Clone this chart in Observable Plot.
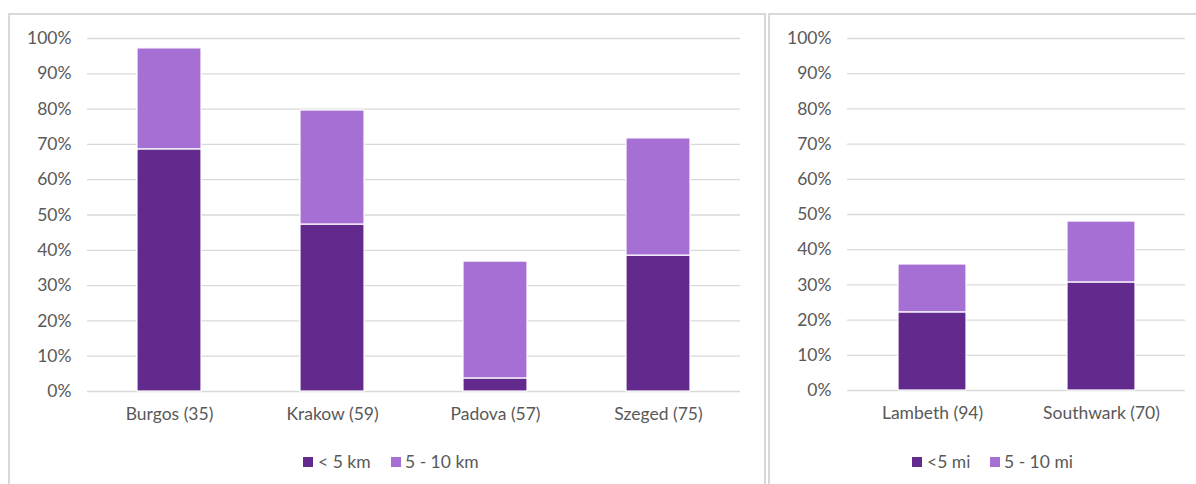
<!DOCTYPE html>
<html>
<head>
<meta charset="utf-8">
<script src="https://cdn.jsdelivr.net/npm/d3@7"></script>
<script src="https://cdn.jsdelivr.net/npm/@observablehq/plot@0.6"></script>
<style>
  html, body { margin: 0; padding: 0; background: #fff; }
  #root { position: relative; width: 1196px; height: 484px; overflow: hidden; font-family: Lato, "Open Sans", sans-serif; color: #595959; }
  .panel { position: absolute; border: 2px solid #d9d9d9; box-sizing: border-box; }
  .plotwrap { position: absolute; top: 0; }
  .legend { position: absolute; top: 452px; font-size: 17.5px; color: #595959; white-space: nowrap; }
  .legend .sw { position: absolute; top: 5px; width: 10px; height: 10px; }
  .legend .lb { position: absolute; top: 0; line-height: 20px; }
</style>
</head>
<body>
<div id="root">
  <div class="panel" style="left:8px; top:13px; width:758px; height:490px;"></div>
  <div class="panel" style="left:768px; top:13px; width:440px; height:490px;"></div>
  <div id="left" class="plotwrap" style="left:0px;"></div>
  <div id="right" class="plotwrap" style="left:769px;"></div>
  <div id="legL" class="legend"></div>
  <div id="legR" class="legend"></div>
</div>
<script>
// ---- data ----
const cities = ["Burgos (35)", "Krakow (59)", "Padova (57)", "Szeged (75)"];
const under5km = [0.686, 0.473, 0.037, 0.385];
const km5to10 = [0.286, 0.323, 0.331, 0.332];
const seriesKm = ["< 5 km", "5 - 10 km"];

const boroughs = ["Lambeth (94)", "Southwark (70)"];
const under5mi = [0.222, 0.307];
const mi5to10 = [0.136, 0.173];
const seriesMi = ["<5 mi", "5 - 10 mi"];

const yTicks = [0, 0.1, 0.2, 0.3, 0.4, 0.5, 0.6, 0.7, 0.8, 0.9, 1.0];
const colors = ["#612a8c", "#a66fd4"];

function rows(cats, a, b, names) {
  const out = [];
  cats.forEach((c, i) => {
    out.push({cat: c, series: names[0], value: a[i], order: 0});
    out.push({cat: c, series: names[1], value: b[i], order: 1});
  });
  return out;
}

function makePlot(cats, data, names, opts) {
  return Plot.plot({
    width: opts.width,
    height: 484,
    marginLeft: opts.marginLeft,
    marginRight: opts.marginRight,
    marginTop: 38,
    marginBottom: opts.marginBottom,
    style: {fontFamily: "Lato, 'Open Sans', sans-serif", fontSize: "17.5px", color: "#595959", background: "transparent"},
    x: {domain: cats, paddingInner: opts.padding, paddingOuter: opts.padding / 2, label: null, tickSize: 0, tickPadding: 16},
    y: {domain: [0, 1], ticks: yTicks, tickFormat: d => Math.round(d * 100) + "%", label: null, tickSize: 0, tickPadding: 16},
    color: {domain: names, range: colors},
    marks: [
      Plot.ruleY(yTicks, {stroke: "#d9d9d9", strokeWidth: 1.3}),
      Plot.barY(data, Plot.stackY({x: "cat", y: "value", fill: "series", order: "order", stroke: "white", strokeWidth: 1.2}))
    ]
  });
}

document.getElementById("left").appendChild(
  makePlot(cities, rows(cities, under5km, km5to10, seriesKm), seriesKm,
    {width: 764, marginLeft: 87, marginRight: 24, marginBottom: 93, padding: 0.61}));
document.getElementById("right").appendChild(
  makePlot(boroughs, rows(boroughs, under5mi, mi5to10, seriesMi), seriesMi,
    {width: 427, marginLeft: 78, marginRight: 11, marginBottom: 94, padding: 0.6}));

function legend(el, names, pos) {
  names.forEach((n, i) => {
    const sw = document.createElement("div");
    sw.className = "sw";
    sw.style.left = pos[i][0] + "px";
    sw.style.background = colors[i];
    const lb = document.createElement("div");
    lb.className = "lb";
    lb.style.left = pos[i][1] + "px";
    lb.textContent = n;
    el.appendChild(sw); el.appendChild(lb);
  });
}
legend(document.getElementById("legL"), seriesKm, [[303, 318], [391, 405]]);
legend(document.getElementById("legR"), seriesMi, [[912, 927], [990, 1004]]);
</script>
</body>
</html>
